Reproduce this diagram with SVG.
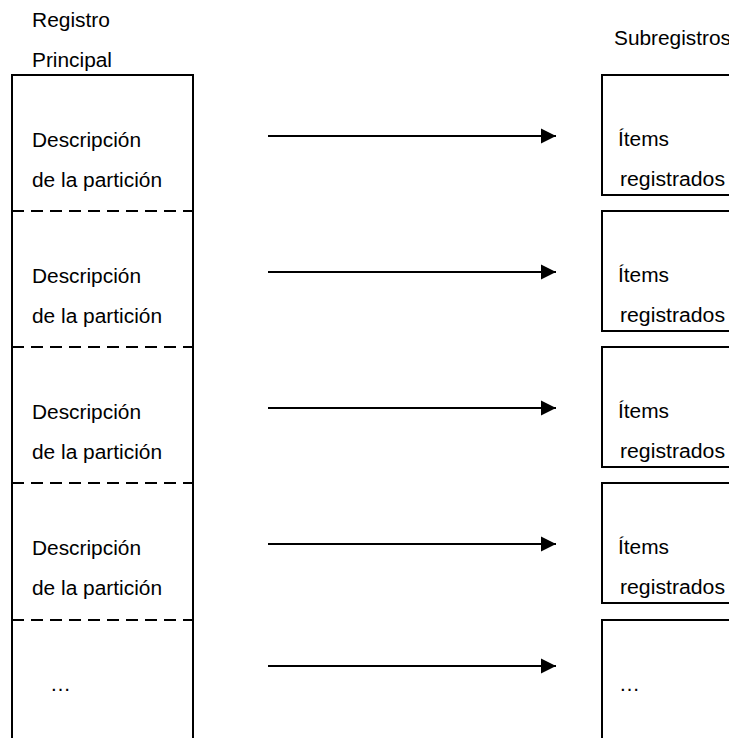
<svg xmlns="http://www.w3.org/2000/svg" width="729" height="738" viewBox="0 0 729 738">
  <style>
    text { font-family: "Liberation Sans", Arial, sans-serif; font-size: 20px; fill: #000; }
    .box { fill: none; stroke: #000; stroke-width: 2; }
    .dash { stroke: #000; stroke-width: 2; stroke-dasharray: 12 7; fill: none; }
    .arrow { stroke: #000; stroke-width: 2; fill: none; marker-end: url(#ah); }
  </style>
  <defs>
    <marker id="ah" markerWidth="16" markerHeight="16" viewBox="0 0 16 16" refX="15" refY="8" markerUnits="userSpaceOnUse" orient="auto">
      <path d="M0,0.5 L15,8 L0,15.5 Z" fill="#000"/>
    </marker>
  </defs>
  <rect width="729" height="738" fill="#fff"/>

  <g id="titles">
    <text x="32" y="27" textLength="78" lengthAdjust="spacingAndGlyphs">Registro</text>
    <text x="32" y="67" textLength="80" lengthAdjust="spacingAndGlyphs">Principal</text>
    <text x="614" y="45" textLength="117" lengthAdjust="spacingAndGlyphs">Subregistros</text>
  </g>

  <g id="main-register">
    <rect class="box" x="12" y="75" width="181" height="700"/>
    <line class="dash" x1="12" y1="211" x2="193" y2="211"/>
    <line class="dash" x1="12" y1="347" x2="193" y2="347"/>
    <line class="dash" x1="12" y1="483" x2="193" y2="483"/>
    <line class="dash" x1="12" y1="620" x2="193" y2="620"/>
  </g>

  <g id="partition-1">
    <text x="32" y="147" textLength="109" lengthAdjust="spacingAndGlyphs">Descripción</text>
    <text x="32" y="187" textLength="130" lengthAdjust="spacingAndGlyphs">de la partición</text>
  </g>
  <g id="partition-2">
    <text x="32" y="283" textLength="109" lengthAdjust="spacingAndGlyphs">Descripción</text>
    <text x="32" y="323" textLength="130" lengthAdjust="spacingAndGlyphs">de la partición</text>
  </g>
  <g id="partition-3">
    <text x="32" y="419" textLength="109" lengthAdjust="spacingAndGlyphs">Descripción</text>
    <text x="32" y="459" textLength="130" lengthAdjust="spacingAndGlyphs">de la partición</text>
  </g>
  <g id="partition-4">
    <text x="32" y="555" textLength="109" lengthAdjust="spacingAndGlyphs">Descripción</text>
    <text x="32" y="595" textLength="130" lengthAdjust="spacingAndGlyphs">de la partición</text>
  </g>
  <g id="partition-5">
    <text x="50" y="691" textLength="21" lengthAdjust="spacingAndGlyphs">…</text>
  </g>

  <g id="sub-1">
    <rect class="box" x="602" y="75" width="140" height="120"/>
    <text x="618" y="146" textLength="51" lengthAdjust="spacingAndGlyphs">Ítems</text>
    <text x="620" y="186" textLength="105" lengthAdjust="spacingAndGlyphs">registrados</text>
  </g>
  <g id="sub-2">
    <rect class="box" x="602" y="211" width="140" height="120"/>
    <text x="618" y="282" textLength="51" lengthAdjust="spacingAndGlyphs">Ítems</text>
    <text x="620" y="322" textLength="105" lengthAdjust="spacingAndGlyphs">registrados</text>
  </g>
  <g id="sub-3">
    <rect class="box" x="602" y="347" width="140" height="120"/>
    <text x="618" y="418" textLength="51" lengthAdjust="spacingAndGlyphs">Ítems</text>
    <text x="620" y="458" textLength="105" lengthAdjust="spacingAndGlyphs">registrados</text>
  </g>
  <g id="sub-4">
    <rect class="box" x="602" y="483" width="140" height="120"/>
    <text x="618" y="554" textLength="51" lengthAdjust="spacingAndGlyphs">Ítems</text>
    <text x="620" y="594" textLength="105" lengthAdjust="spacingAndGlyphs">registrados</text>
  </g>
  <g id="sub-5">
    <rect class="box" x="602" y="620" width="140" height="160"/>
    <text x="619" y="691" textLength="21" lengthAdjust="spacingAndGlyphs">…</text>
  </g>

  <g id="connectors">
    <line class="arrow" x1="268" y1="136" x2="556" y2="136"/>
    <line class="arrow" x1="268" y1="272" x2="556" y2="272"/>
    <line class="arrow" x1="268" y1="408" x2="556" y2="408"/>
    <line class="arrow" x1="268" y1="544" x2="556" y2="544"/>
    <line class="arrow" x1="268" y1="666" x2="556" y2="666"/>
  </g>
</svg>
